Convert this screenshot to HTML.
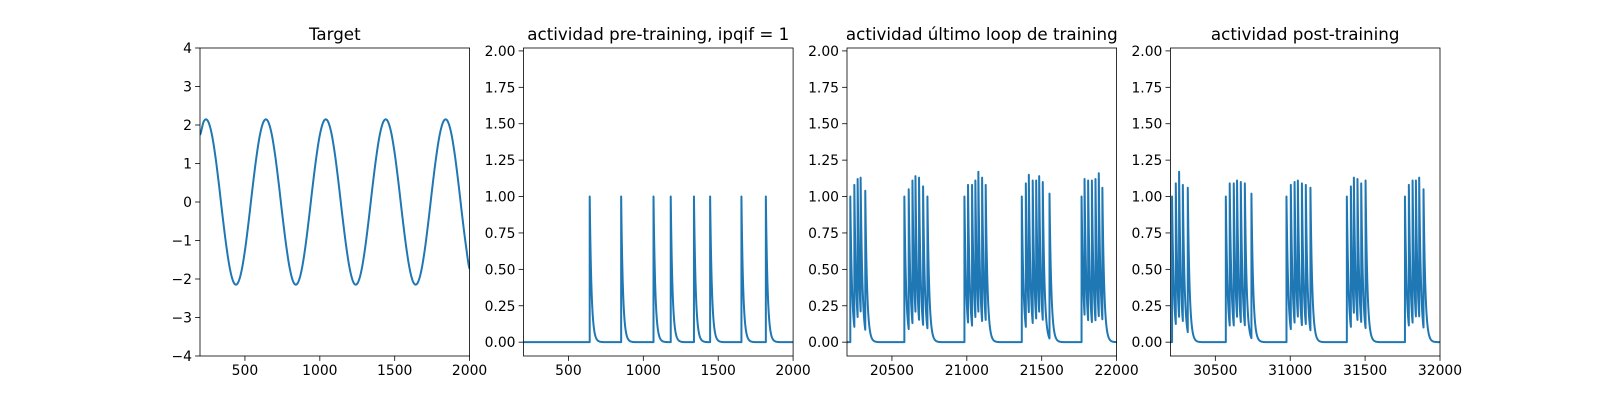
<!DOCTYPE html>
<html><head><meta charset="utf-8"><style>
html,body{margin:0;padding:0;background:#fff}
svg{display:block;font-family:"DejaVu Sans","Liberation Sans",sans-serif}
</style></head><body>
<svg id="fig" width="1600" height="400" viewBox="0 0 1600 400"></svg>
<script>
// ---- data ----
const targetStart = 200, targetStep = 25;
const targetValues = [
1.74,2.09,2.12,1.83,1.26,0.50,-0.34,-1.12,-1.74,-2.09,-2.12,-1.83,-1.26,-0.50,0.34,1.12,
1.74,2.09,2.12,1.83,1.26,0.50,-0.34,-1.12,-1.74,-2.09,-2.12,-1.83,-1.26,-0.50,0.34,1.12,
1.74,2.09,2.12,1.83,1.26,0.50,-0.34,-1.12,-1.74,-2.09,-2.12,-1.83,-1.26,-0.50,0.34,1.12,
1.74,2.09,2.12,1.83,1.26,0.50,-0.34,-1.12,-1.74,-2.09,-2.12,-1.83,-1.26,-0.50,0.34,1.12,
1.74,2.09,2.12,1.83,1.26,0.50,-0.34,-1.12,-1.74];
const preSpikeTimes = [642,852,1068,1183,1338,1446,1655,1818];
const preSpikePeaks = [1,1,1,1,1,1,1,1];
const lastSpikeTimes = [20222,20249,20271,20291,20322, 20583,20612,20637,20657,20681,20708,20737,
 20984,21008,21035,21057,21077,21102,21126, 21367,21394,21414,21440,21463,21483,21507,21552,
 21766,21786,21810,21835,21859,21881,21905];
const lastSpikePeaks = [1.0,1.08,1.12,1.13,1.04, 1.0,1.05,1.11,1.14,1.13,1.07,1.0,
 1.0,1.08,1.08,1.11,1.17,1.13,1.08, 1.0,1.09,1.15,1.11,1.11,1.14,1.10,1.02,
 1.0,1.12,1.11,1.11,1.12,1.16,1.06];
const postSpikeTimes = [30211,30236,30258,30283,30316, 30570,30596,30623,30645,30670,30697,30741,
 30975,31004,31029,31051,31078,31104,31135, 31378,31405,31425,31449,31474,31503,
 31766,31792,31817,31839,31861,31890];
const postSpikePeaks = [1.0,1.09,1.17,1.08,1.06, 1.0,1.09,1.09,1.11,1.10,1.09,1.02,
 1.0,1.08,1.10,1.11,1.09,1.08,1.06, 1.0,1.07,1.13,1.12,1.09,1.11,
 1.0,1.08,1.11,1.11,1.13,1.05];
const titles = ["Target","actividad pre-training, ipqif = 1","actividad último loop de training","actividad post-training"];
const xTicks1 = [500,1000,1500,2000];
const xTicks3 = [20500,21000,21500,22000];
const xTicks4 = [30500,31000,31500,32000];
const yTicks1 = [-4,-3,-2,-1,0,1,2,3,4];
const yTicksAct = [0,0.25,0.5,0.75,1.0,1.25,1.5,1.75,2.0];
const tau = 12;

const NS="http://www.w3.org/2000/svg";
const svg=document.getElementById('fig');
function mk(tag,attrs,parent){const e=document.createElementNS(NS,tag);for(const k in attrs)e.setAttribute(k,attrs[k]);(parent||svg).appendChild(e);return e;}
const PW=269.6, topY=48, botY=356;
const lefts=[200,523.5,847,1170.4];

function spikeTrace(times,peaks,x0,x1){
  const pts=[];let v=0,last=-1e9,lp=0,idx=0;
  for(let t=x0;t<=x1;t+=1){
    while(idx<times.length && times[idx]<=t){
      const before = lp*Math.exp(-(times[idx]-last)/tau);
      pts.push([times[idx],before]);
      last=times[idx];lp=peaks[idx];pts.push([last,lp]);idx++;
    }
    v=lp*Math.exp(-(t-last)/tau);
    pts.push([t,v]);
  }
  return pts;
}
function fmtY(v,dec){const s=Math.abs(v).toFixed(dec);return (v<0?'\u2212':'')+s;}

function panel(i,xmin,xmax,ymin,ymax,xt,yt,dec,pts,name){
  const L=lefts[i];
  const g=mk('g',{});
  
  
  const sx=x=>L+(x-xmin)/(xmax-xmin)*PW;
  const sy=y=>botY-(y-ymin)/(ymax-ymin)*(botY-topY);
  const cid='clip'+i;
  const cp=mk('clipPath',{id:cid},g);mk('rect',{x:L,y:topY,width:PW,height:botY-topY},cp);
  let d='';pts.forEach((p,k)=>{d+=(k?'L':'M')+sx(p[0]).toFixed(2)+' '+sy(p[1]).toFixed(2);});
  const line=mk('path',{d:d,fill:'none',stroke:'#1f77b4','stroke-width':2,'stroke-linejoin':'round','clip-path':'url(#'+cid+')'},g);
  
  
  const fr=mk('rect',{x:L,y:topY,width:PW,height:botY-topY,fill:'none',stroke:'#000','stroke-width':0.8},g);
  
  
  xt.forEach(v=>{const x=sx(v);mk('line',{x1:x,x2:x,y1:botY,y2:botY+4.9,stroke:'#000','stroke-width':0.8},g);
    const t=mk('text',{x:x,y:botY+19,'font-size':13.9,'text-anchor':'middle',fill:'#000'},g);t.textContent=v;
    
    });
  yt.forEach(v=>{const y=sy(v);mk('line',{x1:L-4.9,x2:L,y1:y,y2:y,stroke:'#000','stroke-width':0.8},g);
    const t=mk('text',{x:L-8,y:y+5,'font-size':13.9,'text-anchor':'end',fill:'#000'},g);t.textContent=fmtY(v,dec);
    
    });
  const tt=mk('text',{x:L+PW/2,y:topY-8,'font-size':16.7,'text-anchor':'middle',fill:'#000'},g);tt.textContent=titles[i];
  
  
}
const tpts=targetValues.map((v,k)=>[targetStart+k*targetStep,v]);
const smooth=[];for(let k=0;k<tpts.length-1;k++){const p0=tpts[Math.max(0,k-1)],p1=tpts[k],p2=tpts[k+1],p3=tpts[Math.min(tpts.length-1,k+2)];
  for(let s=0;s<10;s++){const u=s/10,u2=u*u,u3=u2*u;
    const y=0.5*((2*p1[1])+(-p0[1]+p2[1])*u+(2*p0[1]-5*p1[1]+4*p2[1]-p3[1])*u2+(-p0[1]+3*p1[1]-3*p2[1]+p3[1])*u3);
    smooth.push([p1[0]+(p2[0]-p1[0])*u,y]);}}
smooth.push(tpts[tpts.length-1]);
panel(0,200,2000,-4,4,xTicks1,yTicks1,0,smooth,'target-panel');
panel(1,200,2000,-0.095,2.02,xTicks1,yTicksAct,2,spikeTrace(preSpikeTimes,preSpikePeaks,200,2000),'pre-training-panel');
panel(2,20200,22000,-0.095,2.02,xTicks3,yTicksAct,2,spikeTrace(lastSpikeTimes,lastSpikePeaks,20200,22000),'last-loop-panel');
panel(3,30200,32000,-0.095,2.02,xTicks4,yTicksAct,2,spikeTrace(postSpikeTimes,postSpikePeaks,30200,32000),'post-training-panel');
</script>
</body></html>
